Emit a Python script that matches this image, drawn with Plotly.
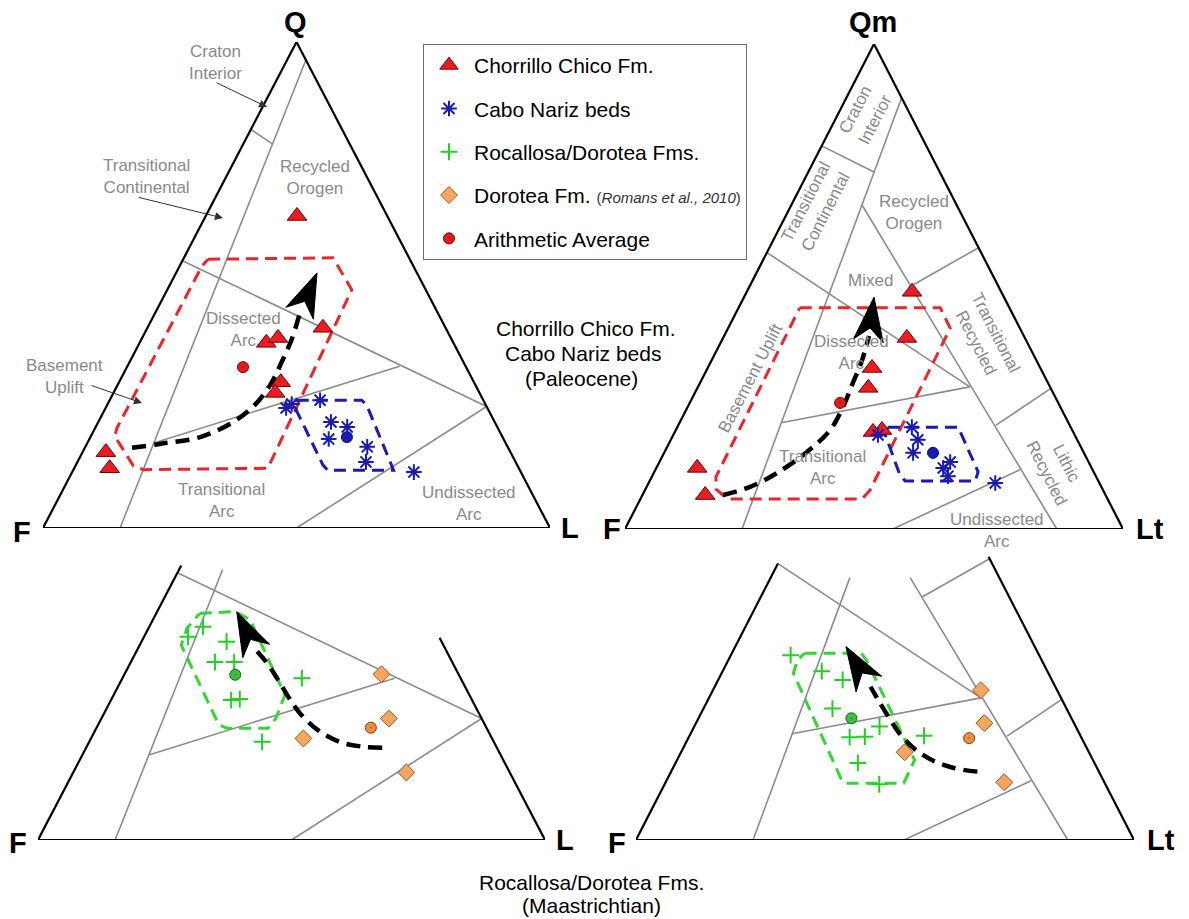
import math
import plotly.graph_objects as go

FIG_W, FIG_H = 1189, 919

# ======================= DATA (percent) =======================
# --- Paleocene, QFL ---
cc_qfl_Q = [64.2, 41.2, 38.1, 39.1, 30.0, 27.8, 15.6, 12.3]
cc_qfl_F = [17.8, 24.2, 36.9, 34.1, 38.1, 40.3, 79.8, 80.7]
cc_qfl_L = [18.0, 34.6, 25.0, 26.8, 31.9, 31.9, 4.6, 7.0]
cn_qfl_Q = [24.7, 25.5, 26.3, 21.8, 20.8, 18.3, 16.7, 13.6, 11.5]
cn_qfl_F = [39.7, 38.2, 32.2, 32.3, 29.6, 34.5, 27.7, 29.5, 21.1]
cn_qfl_L = [35.6, 36.3, 41.5, 45.9, 49.6, 47.2, 55.6, 56.9, 67.4]
avg_cc_qfl = (33.1, 44.0, 22.9)
avg_cn_qfl = (18.7, 30.7, 50.6)

# --- Paleocene, QmFLt ---
cc_qm_Q = [48.9, 39.4, 33.2, 29.1, 20.0, 20.4, 12.6, 7.0]
cc_qm_F = [17.9, 23.7, 33.8, 36.6, 40.2, 38.2, 79.2, 80.4]
cc_qm_L = [33.2, 36.9, 33.0, 34.3, 39.8, 41.4, 8.2, 12.6]
cn_qm_Q = [19.4, 21.0, 18.4, 15.7, 13.8, 12.6, 10.9, 9.5]
cn_qm_F = [39.5, 31.9, 32.0, 34.3, 27.8, 29.8, 29.7, 20.9]
cn_qm_L = [41.1, 47.1, 49.6, 50.0, 58.4, 57.6, 59.4, 69.6]
avg_cc_qm = (26.0, 43.8, 30.2)
avg_cn_qm = (15.7, 30.3, 54.0)

# --- Maastrichtian, QFL ---
rd_qfl_Q = [43.9, 41.8, 40.8, 36.6, 36.6, 33.3, 28.8, 29.0, 20.2]
rd_qfl_F = [45.5, 49.5, 42.4, 46.8, 43.0, 31.3, 47.5, 45.7, 45.7]
rd_qfl_L = [10.6, 8.7, 16.8, 16.6, 20.4, 35.4, 23.7, 25.3, 34.1]
dor_qfl_Q = [34.1, 25.0, 20.9, 13.9]
dor_qfl_F = [15.2, 18.3, 37.2, 20.4]
dor_qfl_L = [50.7, 56.7, 41.9, 65.7]
avg_rd_qfl = (34.0, 44.1, 21.9)
avg_dor_qfl = (23.1, 22.8, 54.1)

# --- Maastrichtian, QmFLt ---
rd_qm_Q = [38.1, 34.8, 33.0, 27.1, 23.4, 21.2, 21.3, 21.5, 15.9, 11.5]
rd_qm_F = [49.9, 45.3, 42.0, 47.0, 39.4, 46.5, 43.4, 31.4, 47.5, 45.4]
rd_qm_L = [12.0, 19.9, 25.0, 25.9, 37.2, 32.3, 35.3, 47.1, 36.6, 43.1]
dor_qm_Q = [30.9, 24.1, 18.1, 11.9]
dor_qm_F = [15.3, 18.0, 37.0, 20.1]
dor_qm_L = [53.8, 57.9, 44.9, 68.0]
avg_rd_qm = (25.1, 44.2, 30.7)
avg_dor_qm = (21.0, 22.6, 56.4)

# --- compositional envelopes (Q, L ; F = 100 - Q - L) ---
env_cc_qfl_Q = [55.3, 55.6, 49.0, 12.3, 12.0, 12.8, 18.9, 20.6, 53.9, 55.3]
env_cc_qfl_L = [4.9, 29.4, 36.4, 38.2, 13.8, 11.4, 4.7, 4.3, 4.4, 4.9]
env_cn_qfl_Q = [26.3, 26.3, 25.3, 14.0, 11.9, 11.9, 13.0, 24.9, 26.3]
env_cn_qfl_L = [36.9, 49.7, 51.2, 61.4, 63.2, 50.2, 48.7, 37.2, 36.9]
env_cc_qm_Q = [45.6, 45.6, 41.4, 8.0, 6.2, 6.2, 8.2, 10.7, 44.3, 45.6]
env_cc_qm_L = [12.3, 40.5, 44.6, 45.2, 44.5, 17.4, 14.2, 12.9, 12.3, 12.3]
env_cn_qm_Q = [21.0, 21.0, 11.8, 9.9, 9.9, 11.3, 19.6, 21.0]
env_cn_qm_L = [42.3, 56.4, 65.0, 65.4, 51.3, 49.5, 42.4, 42.3]
env_rd_qfl_Q = [46.6, 47.0, 45.3, 29.8, 25.0, 23.0, 23.0, 23.7, 40.1, 43.6, 46.6]
env_rd_qfl_L = [8.6, 15.4, 19.2, 33.8, 34.4, 33.9, 25.9, 23.8, 8.2, 7.6, 8.6]
env_rd_qm_Q = [38.5, 38.5, 37.1, 16.5, 11.7, 11.7, 12.7, 34.4, 37.1, 38.5]
env_rd_qm_L = [14.6, 26.0, 27.7, 47.7, 47.9, 36.1, 34.8, 14.4, 13.9, 14.6]

# --- provenance trend arrows (Q, L), last pair is the arrow tip ---
trend_qfl_Q = [16.5, 17.3, 18.7, 21.8, 25.3, 29.4, 34.2, 39.1, 44.4, 52.5]
trend_qfl_L = [9.3, 14.4, 21.6, 26.6, 29.1, 30.1, 30.0, 29.6, 28.5, 27.8]
trend_qm_Q = [7.0, 8.7, 11.5, 15.9, 20.4, 25.2, 30.1, 34.8, 39.8, 47.8]
trend_qm_L = [16.2, 20.8, 24.7, 28.6, 31.0, 31.2, 30.7, 30.2, 29.1, 26.1]
trend_qfl_m_Q = [19.0, 19.2, 20.1, 22.5, 26.1, 29.5, 33.3, 36.7, 39.1, 47.0]
trend_qfl_m_L = [58.4, 54.5, 49.7, 44.1, 38.6, 34.6, 30.5, 26.6, 23.4, 15.7]
trend_qm_m_Q = [14.1, 14.8, 16.4, 18.8, 22.0, 25.4, 28.5, 31.6, 39.9]
trend_qm_m_L = [61.5, 56.6, 51.4, 46.5, 41.9, 38.0, 34.6, 31.3, 22.2]

# --- Dickinson provenance field boundaries (Q, F, L) ---
qfl_fields = [
    ((96.3, 0.0, 3.7), (0.0, 84.8, 15.2)),
    ((82.0, 18.0, 0.0), (79.0, 15.2, 5.8)),
    ((55.0, 45.0, 0.0), (25.0, 0.0, 75.0)),
    ((17.5, 69.4, 13.1), (33.3, 13.0, 53.7)),
    ((0.0, 50.0, 50.0), (25.0, 0.0, 75.0)),
]
qfl_fields_maas = [
    ((55.6, 35.8, 8.6), (0.0, 84.8, 15.2)),
    ((55.0, 45.0, 0.0), (25.0, 0.0, 75.0)),
    ((17.5, 69.4, 13.1), (33.3, 13.0, 53.7)),
    ((0.0, 50.0, 50.0), (25.0, 0.0, 75.0)),
]
qfl_frame_maas = [((0, 100, 0), (56.5, 43.5, 0)), ((0, 0, 100), (41.6, 0, 58.4)),
                  ((0, 100, 0), (0, 0, 100))]
qm_fields = [
    ((88.9, 0.0, 11.1), (0.0, 76.5, 23.5)),
    ((79.0, 21.0, 0.0), (73.6, 13.2, 13.2)),
    ((57.0, 43.0, 0.0), (29.3, 16.1, 54.6)),
    ((66.8, 19.0, 14.2), (0.0, 13.3, 86.7)),
    ((50.1, 17.5, 32.4), (58.0, 0.0, 42.0)),
    ((21.4, 14.8, 63.8), (29.0, 0.0, 71.0)),
    ((21.9, 57.7, 20.4), (29.3, 16.1, 54.6)),
    ((0.0, 46.2, 53.8), (12.2, 14.6, 73.2)),
]
qm_fields_maas = [
    ((54.1, 30.0, 15.9), (0.0, 76.5, 23.5)),
    ((57.0, 43.0, 0.0), (29.3, 16.1, 54.6)),
    ((54.1, 17.9, 28.0), (0.0, 13.3, 86.7)),
    ((50.1, 17.5, 32.4), (58.0, 0.0, 42.0)),
    ((21.4, 14.8, 63.8), (29.0, 0.0, 71.0)),
    ((21.9, 57.7, 20.4), (29.3, 16.1, 54.6)),
    ((0.0, 46.2, 53.8), (12.2, 14.6, 73.2)),
]
qm_frame_maas = [((0, 100, 0), (57.0, 43.0, 0)), ((0, 0, 100), (58.4, 0, 41.6)),
                 ((0, 100, 0), (0, 0, 100))]
full_frame = [((0, 100, 0), (0, 0, 100)), ((0, 0, 100), (100, 0, 0)), ((100, 0, 0), (0, 100, 0))]

legend_names = ["Chorrillo Chico Fm.", "Cabo Nariz beds", "Rocallosa/Dorotea Fms.",
                "Dorotea Fm. <span style='font-size:15px;color:#333'>(<i>Romans et al., 2010</i>)</span>",
                "Arithmetic Average"]

# ======================= LAYOUT GEOMETRY =======================
PANELS = {
    "tl": dict(x0=43, x1=550, base=528, h=486, ax="1"),
    "tr": dict(x0=625, x1=1123, base=529, h=485, ax="2"),
    "bl": dict(x0=38, x1=545, base=840, h=486, ax="3"),
    "br": dict(x0=636, x1=1134, base=840, h=485, ax="4"),
}
FONT = "Liberation Sans, Arial, sans-serif"
GRAY_TXT = "#8a8a8a"
FIELD_COL = "#8c8c8c"


def tern(q, f, l):
    s = q + f + l
    return (l + q / 2.0) / s, q / s


def tern_list(Q, F, L):
    xs, ys = [], []
    for q, f, l in zip(Q, F, L):
        x, y = tern(q, f, l)
        xs.append(x)
        ys.append(y)
    return xs, ys


def tern_ql(Q, L):
    return tern_list(Q, [100 - q - l for q, l in zip(Q, L)], L)


def axn(p):
    a = PANELS[p]["ax"]
    return ("x" if a == "1" else "x" + a), ("y" if a == "1" else "y" + a)


fig = go.Figure()


def add(p, **kw):
    xa, ya = axn(p)
    kw.setdefault("showlegend", False)
    kw.setdefault("hoverinfo", "skip")
    fig.add_trace(go.Scatter(xaxis=xa, yaxis=ya, cliponaxis=False, **kw))


def seg_trace(p, segs, color, width):
    xs, ys = [], []
    for a, b in segs:
        for pt in (a, b):
            x, y = tern(*pt)
            xs.append(x)
            ys.append(y)
        xs.append(None)
        ys.append(None)
    add(p, x=xs, y=ys, mode="lines", line=dict(color=color, width=width))


def env_trace(p, Q, L, color):
    xs, ys = tern_ql(Q, L)
    add(p, x=xs, y=ys, mode="lines", line=dict(color=color, width=3, dash="12px,7px"))


def trend_trace(p, Q, L):
    xs, ys = tern_ql(Q, L)
    P = PANELS[p]
    W, H = P["x1"] - P["x0"], P["h"]
    add(p, x=xs[:-1], y=ys[:-1], mode="lines",
        line=dict(color="black", width=4.5, dash="14px,8px", shape="spline"))
    tx, ty = xs[-1] * W, ys[-1] * H
    lx, ly = xs[-2] * W, ys[-2] * H
    d = math.hypot(tx - lx, ty - ly)
    ux, uy = (tx - lx) / d, (ty - ly) / d
    px_, py_ = -uy, ux
    length, half, notch = 44.0, 15.0, 13.0
    bx, by = tx - length * ux, ty - length * uy
    nx, ny = tx - (length - notch) * ux, ty - (length - notch) * uy
    poly = [(tx, ty), (bx + half * px_, by + half * py_), (nx, ny),
            (bx - half * px_, by - half * py_), (tx, ty)]
    add(p, x=[a / W for a, b in poly], y=[b / H for a, b in poly], mode="lines",
        fill="toself", fillcolor="black", line=dict(color="black", width=1))


def pts(p, Q, F, L, name=None, legend=False, rank=None, **marker):
    xs, ys = tern_list(Q, F, L)
    kw = dict(x=xs, y=ys, mode="markers", marker=marker, name=name or "")
    if legend:
        kw.update(showlegend=True, legendgroup=name, legendrank=rank)
    add(p, **kw)


RED_TRI = dict(symbol="triangle-up", size=17, color="#ec1c24", line=dict(color="#6e0000", width=1))
BLUE_AST = dict(symbol="asterisk-open", size=13, color="#1a1ab4", line=dict(color="#1a1ab4", width=2))
GREEN_CR = dict(symbol="cross-thin-open", size=12, color="#22d022", line=dict(color="#22d022", width=2))
ORANGE_DI = dict(symbol="diamond", size=13, color="#f6a65e", line=dict(color="#8a5a30", width=1))

# ---------- frames and fields ----------
seg_trace("tl", qfl_fields, FIELD_COL, 1.6)
seg_trace("tl", full_frame, "black", 2.2)
seg_trace("tr", qm_fields, FIELD_COL, 1.6)
seg_trace("tr", full_frame, "black", 2.2)
seg_trace("bl", qfl_fields_maas, FIELD_COL, 1.6)
seg_trace("bl", qfl_frame_maas, "black", 2.2)
seg_trace("br", qm_fields_maas, FIELD_COL, 1.6)
seg_trace("br", qm_frame_maas, "black", 2.2)

# ---------- envelopes ----------
env_trace("tl", env_cc_qfl_Q, env_cc_qfl_L, "#e8262b")
env_trace("tl", env_cn_qfl_Q, env_cn_qfl_L, "#1a1ab4")
env_trace("tr", env_cc_qm_Q, env_cc_qm_L, "#e8262b")
env_trace("tr", env_cn_qm_Q, env_cn_qm_L, "#1a1ab4")
env_trace("bl", env_rd_qfl_Q, env_rd_qfl_L, "#33d633")
env_trace("br", env_rd_qm_Q, env_rd_qm_L, "#33d633")

# ---------- trends ----------
trend_trace("tl", trend_qfl_Q, trend_qfl_L)
trend_trace("tr", trend_qm_Q, trend_qm_L)
trend_trace("bl", trend_qfl_m_Q, trend_qfl_m_L)
trend_trace("br", trend_qm_m_Q, trend_qm_m_L)

# ---------- samples ----------
pts("tl", cc_qfl_Q, cc_qfl_F, cc_qfl_L, legend_names[0], True, 1, **RED_TRI)
pts("tl", cn_qfl_Q, cn_qfl_F, cn_qfl_L, legend_names[1], True, 2, **BLUE_AST)
pts("tr", cc_qm_Q, cc_qm_F, cc_qm_L, **RED_TRI)
pts("tr", cn_qm_Q, cn_qm_F, cn_qm_L, **BLUE_AST)
pts("bl", rd_qfl_Q, rd_qfl_F, rd_qfl_L, legend_names[2], True, 3, **GREEN_CR)
pts("bl", dor_qfl_Q, dor_qfl_F, dor_qfl_L, legend_names[3], True, 4, **ORANGE_DI)
pts("br", rd_qm_Q, rd_qm_F, rd_qm_L, **GREEN_CR)
pts("br", dor_qm_Q, dor_qm_F, dor_qm_L, **ORANGE_DI)

AVG_RED = dict(symbol="circle-dot", size=11, color="#e41a1c", line=dict(color="#7a0000", width=1))
AVG_BLUE = dict(symbol="circle", size=11, color="#1a1ab4", line=dict(color="#10106a", width=1))
AVG_GREEN = dict(symbol="circle-dot", size=11, color="#3cc03c", line=dict(color="#17601a", width=1))
AVG_ORANGE = dict(symbol="circle-dot", size=11, color="#f08c3c", line=dict(color="#86400c", width=1))


def avg(p, comp, legend=False, **m):
    pts(p, [comp[0]], [comp[1]], [comp[2]], legend_names[4] if legend else None, legend, 5, **m)


avg("tl", avg_cc_qfl, True, **AVG_RED)
avg("tl", avg_cn_qfl, **AVG_BLUE)
avg("tr", avg_cc_qm, **AVG_RED)
avg("tr", avg_cn_qm, **AVG_BLUE)
avg("bl", avg_rd_qfl, **AVG_GREEN)
avg("bl", avg_dor_qfl, **AVG_ORANGE)
avg("br", avg_rd_qm, **AVG_GREEN)
avg("br", avg_dor_qm, **AVG_ORANGE)

# ---------- axes ----------
layout_axes = {}
for key, P in PANELS.items():
    a = P["ax"]
    xn = "xaxis" if a == "1" else "xaxis" + a
    yn = "yaxis" if a == "1" else "yaxis" + a
    layout_axes[xn] = dict(domain=[P["x0"] / FIG_W, P["x1"] / FIG_W], range=[0, 1],
                           visible=False, fixedrange=True,
                           anchor="y" if a == "1" else "y" + a)
    layout_axes[yn] = dict(domain=[(FIG_H - P["base"]) / FIG_H, (FIG_H - P["base"] + P["h"]) / FIG_H],
                           range=[0, 1], visible=False, fixedrange=True,
                           anchor="x" if a == "1" else "x" + a)


def pap(px, py):
    return px / FIG_W, 1 - py / FIG_H


annotations = []


def txt(px, py, text, size=17, color=GRAY_TXT, bold=False, angle=0):
    x, y = pap(px, py)
    t = "<b>%s</b>" % text if bold else text
    annotations.append(dict(x=x, y=y, xref="paper", yref="paper", text=t, showarrow=False,
                            xanchor="center", yanchor="middle", textangle=angle,
                            font=dict(family=FONT, size=size, color=color)))


def arrow(hx, hy, tx, ty):
    x, y = pap(hx, hy)
    annotations.append(dict(x=x, y=y, xref="paper", yref="paper", ax=tx - hx, ay=ty - hy,
                            axref="pixel", ayref="pixel", text="", showarrow=True,
                            arrowhead=2, arrowsize=1.6, arrowwidth=1, arrowcolor="#333333",
                            standoff=0))


# corner labels
for (px, py, t) in [(295, 22, "Q"), (22, 532, "F"), (570, 528, "L"),
                    (873, 22, "Qm"), (612, 529, "F"), (1150, 529, "Lt"),
                    (18, 843, "F"), (565, 840, "L"), (617, 843, "F"), (1161, 840, "Lt")]:
    txt(px, py, t, size=29, color="black", bold=True)

# QFL field names
txt(215, 62, "Craton<br>Interior")
arrow(267, 107, 215, 82)
txt(146, 176, "Transitional<br>Continental")
arrow(223, 218, 137, 197)
txt(315, 177, "Recycled<br>Orogen")
txt(243, 330, "Dissected<br>Arc")
txt(64, 376, "Basement<br>Uplift")
arrow(142, 403, 90, 385)
txt(221, 500, "Transitional<br>Arc")
txt(469, 503, "Undissected<br>Arc")

# QmFLt field names
txt(865, 114, "Craton<br>Interior", angle=-62.7)
txt(815, 207, "Transitional<br>Continental", angle=-62.7)
txt(914, 212, "Recycled<br>Orogen")
txt(870, 280, "Mixed")
txt(851, 352, "Dissected<br>Arc")
txt(750, 378, "Basement Uplift", angle=-62.7)
txt(822, 467, "Transitional<br>Arc")
txt(986, 337, "Transitional<br>Recycled", angle=63)
txt(1057, 468, "Lithic<br>Recycled", angle=63)
txt(997, 530, "Undissected<br>Arc")

# group captions
txt(586, 328, "Chorrillo Chico Fm.", size=21, color="black")
txt(583, 353, "Cabo Nariz beds", size=21, color="black")
txt(581, 378, "(Paleocene)", size=21, color="black")
txt(591, 882, "Rocallosa/Dorotea Fms.", size=21, color="black")
txt(591, 905, "(Maastrichtian)", size=21, color="black")

lx, ly = pap(423, 44)
fig.update_layout(
    width=FIG_W, height=FIG_H,
    margin=dict(l=0, r=0, t=0, b=0),
    paper_bgcolor="white", plot_bgcolor="rgba(0,0,0,0)",
    font=dict(family=FONT, color="black"),
    annotations=annotations,
    showlegend=True,
    legend=dict(x=lx, y=ly, xanchor="left", yanchor="top",
                bgcolor="white", bordercolor="#6e6e6e", borderwidth=1,
                font=dict(family=FONT, size=21, color="black"),
                tracegroupgap=13, itemwidth=40, itemclick=False, itemdoubleclick=False),
    **layout_axes,
)

fig.write_html("out.html", config={"displayModeBar": False},
               post_script="document.body.style.margin='0px';")
